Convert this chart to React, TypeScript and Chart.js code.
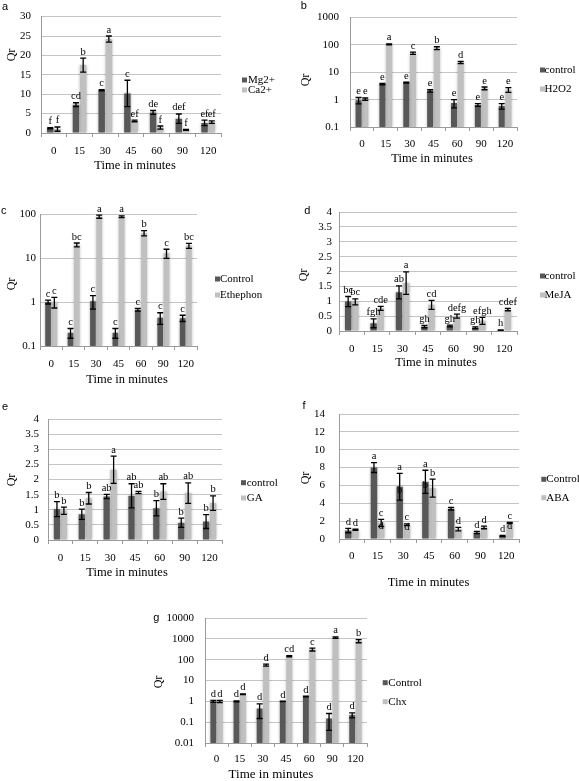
import React, { useEffect, useRef } from 'react';
import { Chart, registerables } from 'chart.js';
Chart.register(...registerables);

// ---------- data ----------
const minutes = ['0', '15', '30', '45', '60', '90', '120'];

// a
const mgValues = [1.2, 7.3, 11.0, 10.2, 5.3, 3.7, 2.6];
const mgErrors = [0.15, 0.5, 0.15, 3.4, 0.5, 1.2, 0.7];
const caValues = [1.0, 17.5, 24.2, 3.1, 1.4, 0.8, 2.8];
const caErrors = [0.55, 1.8, 0.8, 0.2, 0.4, 0.1, 0.3];
const mgLetters = ['f', 'cd', 'c', 'c', 'de', 'def', 'ef'];
const caLetters = ['f', 'b', 'a', 'ef', 'f', 'f', 'ef'];

// b
const bControlValues = [0.95, 3.7, 4.2, 2.1, 0.75, 0.64, 0.58];
const bControlErrors = [0.25, 0.2, 0.2, 0.2, 0.25, 0.07, 0.13];
const h2o2Values = [1.05, 105, 50, 77, 23, 2.6, 2.3];
const h2o2Errors = [0.1, 4, 5, 9, 2, 0.3, 0.45];
const bControlLetters = ['e', 'e', 'e', 'e', 'e', 'e', 'e'];
const h2o2Letters = ['e', 'a', 'c', 'b', 'd', 'e', 'e'];

// c
const cControlValues = [1.0, 0.2, 1.04, 0.2, 0.67, 0.44, 0.43];
const cControlErrors = [0.1, 0.05, 0.35, 0.05, 0.05, 0.13, 0.07];
const ethephonValues = [1.0, 19.9, 87, 87, 36.7, 12.8, 19];
const ethephonErrors = [0.27, 2, 7, 4, 5, 3, 2.5];
const cControlLetters = ['c', 'c', 'c', 'c', 'c', 'c', 'c'];
const ethephonLetters = ['c', 'bc', 'a', 'a', 'b', 'c', 'bc'];

// d
const dControlValues = [0.99, 0.26, 1.3, 0.15, 0.17, 0.11, 0.03];
const dControlErrors = [0.17, 0.15, 0.22, 0.04, 0.03, 0.03, 0.01];
const mejaValues = [0.98, 0.76, 1.61, 0.88, 0.5, 0.34, 0.72];
const mejaErrors = [0.1, 0.07, 0.38, 0.15, 0.07, 0.12, 0.04];
const dControlLetters = ['bc', 'fgh', 'ab', 'gh', 'gh', 'gh', 'h'];
const mejaLetters = ['bc', 'cde', 'a', 'cd', 'defg', 'efgh', 'cdef'];

// e
const eControlValues = [1.02, 0.85, 1.44, 1.46, 1.05, 0.57, 0.61];
const eControlErrors = [0.25, 0.17, 0.07, 0.4, 0.25, 0.15, 0.23];
const gaValues = [0.97, 1.38, 2.32, 1.57, 1.6, 1.55, 1.22];
const gaErrors = [0.12, 0.19, 0.45, 0.04, 0.26, 0.34, 0.24];
const eControlLetters = ['b', 'b', 'ab', 'ab', 'b', 'b', 'b'];
const gaLetters = ['b', 'b', 'a', 'ab', 'ab', 'ab', 'b'];

// f
const fControlValues = [0.95, 8.0, 5.85, 6.4, 3.4, 0.73, 0.35];
const fControlErrors = [0.25, 0.55, 1.5, 1.3, 0.15, 0.12, 0.04];
const abaValues = [1.04, 1.8, 1.6, 5.7, 1.1, 1.3, 1.8];
const abaErrors = [0.06, 0.4, 0.1, 1.0, 0.2, 0.15, 0.06];
const fControlLetters = ['d', 'a', 'a', 'a', 'c', 'd', 'd'];
const fControlInner = ['', '', 'b', 'b', '', '', ''];
const abaLetters = ['d', 'c', 'c', 'b', 'd', 'd', 'c'];
const abaInner = ['', 'd', 'd', '', '', '', 'd'];

// g
const gControlValues = [1.0, 1.0, 0.45, 1.0, 1.7, 0.15, 0.22];
const gControlErrors = [0.1, 0.05, 0.3, 0.03, 0.05, 0.11, 0.06];
const chxValues = [1.0, 2.2, 55, 145, 310, 1150, 780];
const chxErrors = [0.12, 0.1, 6, 10, 50, 100, 130];
const gControlLetters = ['d', 'd', 'd', 'd', 'd', 'd', 'd'];
const chxLetters = ['d', 'd', 'd', 'cd', 'c', 'a', 'b'];

// tick lists
const linTicks30 = [0, 5, 10, 15, 20, 25, 30];
const logTicksB = [0.1, 1, 10, 100, 1000];
const logTicksC = [0.1, 1, 10, 100];
const linTicks4 = [0, 0.5, 1, 1.5, 2, 2.5, 3, 3.5, 4];
const linTicks14 = [0, 2, 4, 6, 8, 10, 12, 14];
const logTicksG = [0.01, 0.1, 1, 10, 100, 1000, 10000];

// ---------- styling / layout ----------
const DARK = '#585858';
const LIGHT = '#c0c0c0';
const SERIF = "'Liberation Serif', 'Times New Roman', serif";
const SANS = "'Liberation Sans', Arial, sans-serif";

type Panel = {
  id: string;
  box: number[]; // x, y, w, h (page)
  area: number[]; // L, T, R, B (page)
  log: boolean;
  ticks: number[];
  names: string[];
  values: number[][];
  errors: number[][];
  letters: string[][];
  inner?: string[][];
  yPad: number;
  xLabelY: number;
  qr: number[];
  title: number[];
  letterPos: number[];
  legend: { mx: number; tx: number; y: number[] };
};

const panels: Panel[] = [
  {
    id: 'a', box: [0, 0, 289, 192], area: [41, 7, 221, 133], log: false, ticks: linTicks30,
    names: ['Mg2+', 'Ca2+'], values: [mgValues, caValues], errors: [mgErrors, caErrors],
    letters: [mgLetters, caLetters], yPad: 10, xLabelY: 151, qr: [12, 55], title: [135, 166, 12.5],
    letterPos: [5, 6.5], legend: { mx: 242, tx: 248, y: [80, 90] },
  },
  {
    id: 'b', box: [289, 0, 290, 192], area: [350, 7, 517, 127], log: true, ticks: logTicksB,
    names: ['control', 'H2O2'], values: [bControlValues, h2o2Values], errors: [bControlErrors, h2o2Errors],
    letters: [bControlLetters, h2o2Letters], yPad: 11, xLabelY: 144, qr: [306, 80], title: [432, 159, 12.5],
    letterPos: [303.7, 5.5], legend: { mx: 540, tx: 544.5, y: [70, 89] },
  },
  {
    id: 'c', box: [0, 192, 289, 198], area: [40, 214, 197, 346], log: true, ticks: logTicksC,
    names: ['Control', 'Ethephon'], values: [cControlValues, ethephonValues], errors: [cControlErrors, ethephonErrors],
    letters: [cControlLetters, ethephonLetters], yPad: 4, xLabelY: 364, qr: [12, 284], title: [127, 380, 12.5],
    letterPos: [3.8, 210.8], legend: { mx: 215, tx: 220, y: [279, 295] },
  },
  {
    id: 'd', box: [289, 192, 290, 198], area: [339, 212, 517, 331], log: false, ticks: linTicks4,
    names: ['control', 'MeJA'], values: [dControlValues, mejaValues], errors: [dControlErrors, mejaErrors],
    letters: [dControlLetters, mejaLetters], yPad: 7, xLabelY: 349, qr: [304, 275], title: [436, 363, 12.5],
    letterPos: [307.3, 210.5], legend: { mx: 540, tx: 544.5, y: [276, 295] },
  },
  {
    id: 'e', box: [0, 390, 289, 198], area: [48, 419, 222, 540], log: false, ticks: linTicks4,
    names: ['control', 'GA'], values: [eControlValues, gaValues], errors: [eControlErrors, gaErrors],
    letters: [eControlLetters, gaLetters], yPad: 9, xLabelY: 558, qr: [12, 480], title: [127, 573, 12.5],
    letterPos: [5, 406.7], legend: { mx: 241, tx: 246.7, y: [482.7, 498] },
  },
  {
    id: 'f', box: [289, 390, 290, 198], area: [339, 414, 519, 539], log: false, ticks: linTicks14,
    names: ['Control', 'ABA'], values: [fControlValues, abaValues], errors: [fControlErrors, abaErrors],
    letters: [fControlLetters, abaLetters], inner: [fControlInner, abaInner], yPad: 14, xLabelY: 556,
    qr: [306, 478], title: [428.5, 583, 12.5], letterPos: [304, 405.5], legend: { mx: 541.3, tx: 546.3, y: [479.3, 497.7] },
  },
  {
    id: 'g', box: [140, 588, 300, 193], area: [205, 618, 367, 743], log: true, ticks: logTicksG,
    names: ['Control', 'Chx'], values: [gControlValues, chxValues], errors: [gControlErrors, chxErrors],
    letters: [gControlLetters, chxLetters], yPad: 11, xLabelY: 759, qr: [159, 682], title: [271, 775, 13],
    letterPos: [156.3, 617.7], legend: { mx: 382.7, tx: 388.3, y: [682.7, 701.7] },
  },
];

function fmt(v: number) {
  return String(Number(v.toFixed(4)));
}

function makePlugin(p: Panel) {
  const [bx, by] = p.box;
  return {
    id: 'panelDecor' + p.id,
    beforeDatasetsDraw(chart: any) {
      const ctx = chart.ctx;
      ctx.save();
      ctx.shadowColor = 'rgba(0,0,0,0.3)';
      ctx.shadowBlur = 3;
    },
    afterDatasetsDraw(chart: any) {
      const ctx = chart.ctx;
      ctx.restore();
      const ys = chart.scales.y;
      ctx.save();
      for (let di = 0; di < 2; di++) {
        const meta = chart.getDatasetMeta(di);
        meta.data.forEach((bar: any, i: number) => {
          const v = p.values[di][i];
          const e = p.errors[di][i];
          const x = bar.x;
          const top = ys.getPixelForValue(v + e);
          const lo = v - e;
          const bot = lo > ys.min ? ys.getPixelForValue(lo) : ys.bottom;
          ctx.strokeStyle = '#000';
          ctx.lineWidth = 1.3;
          ctx.beginPath();
          ctx.moveTo(x, top);
          ctx.lineTo(x, bot);
          ctx.moveTo(x - 3, top);
          ctx.lineTo(x + 3, top);
          ctx.moveTo(x - 3, bot);
          ctx.lineTo(x + 3, bot);
          ctx.stroke();
          ctx.fillStyle = '#000';
          ctx.font = `10.5px ${SERIF}`;
          ctx.textAlign = 'center';
          ctx.textBaseline = 'bottom';
          ctx.fillText(p.letters[di][i], x, top - 1);
        });
      }
      ctx.restore();
    },
    afterDraw(chart: any) {
      const ctx = chart.ctx;
      const ys = chart.scales.y;
      ctx.save();
      ctx.fillStyle = '#000';
      ctx.textAlign = 'center';
      // second letters placed at the bar top
      const inner = p.inner;
      if (inner) {
        ctx.font = `10.5px ${SERIF}`;
        ctx.textBaseline = 'middle';
        for (let di = 0; di < 2; di++) {
          for (let i = 0; i < minutes.length; i++) {
            const t = inner[di][i];
            if (!t) continue;
            const x = chart.getDatasetMeta(di).data[i].x;
            const yTop = ys.getPixelForValue(p.values[di][i]);
            ctx.fillText(t, x, yTop + 3);
          }
        }
      }
      // panel letter
      ctx.font = `11px ${SANS}`;
      ctx.textBaseline = 'middle';
      ctx.fillText(p.id, p.letterPos[0] - bx, p.letterPos[1] - by);
      // x title
      ctx.font = `${p.title[2]}px ${SERIF}`;
      ctx.fillText('Time in minutes', p.title[0] - bx, p.title[1] - by);
      // y title
      ctx.save();
      ctx.translate(p.qr[0] - bx, p.qr[1] - by);
      ctx.rotate(-Math.PI / 2);
      ctx.font = `12px ${SERIF}`;
      ctx.fillText('Qr', 0, 0);
      ctx.restore();
      // legend
      ctx.font = `11px ${SERIF}`;
      ctx.textAlign = 'left';
      [DARK, LIGHT].forEach((c, k) => {
        const y = p.legend.y[k] - by;
        ctx.fillStyle = c;
        ctx.fillRect(p.legend.mx - bx, y - 2.5, 5, 5);
        ctx.fillStyle = '#000';
        ctx.fillText(p.names[k], p.legend.tx - bx, y);
      });
      ctx.restore();
    },
  };
}

function buildConfig(p: Panel): any {
  const [bx, by, bw, bh] = p.box;
  const [L, T, R, B] = p.area;
  const tickFont = { family: SERIF, size: 11 };
  return {
    type: 'bar',
    data: {
      labels: minutes,
      datasets: [
        { label: p.names[0], data: p.values[0], backgroundColor: DARK, borderWidth: 0 },
        { label: p.names[1], data: p.values[1], backgroundColor: LIGHT, borderWidth: 0 },
      ],
    },
    options: {
      responsive: false,
      maintainAspectRatio: false,
      animation: false,
      devicePixelRatio: 1,
      datasets: { bar: { categoryPercentage: 0.56, barPercentage: 0.9 } },
      layout: { padding: { left: 0, top: T - by, right: bx + bw - R, bottom: 0 } },
      plugins: { legend: { display: false }, tooltip: { enabled: false } },
      scales: {
        x: {
          type: 'category',
          offset: true,
          grid: { offset: true, drawOnChartArea: false, drawTicks: true, tickLength: 4, color: '#9a9a9a' },
          border: { color: '#9a9a9a' },
          ticks: {
            font: tickFont, color: '#000', maxRotation: 0, autoSkip: false,
            padding: p.xLabelY - B - 4 - 6.6,
          },
          afterFit: (s: any) => { s.height = by + bh - B; },
        },
        y: {
          type: p.log ? 'logarithmic' : 'linear',
          min: p.ticks[0],
          max: p.ticks[p.ticks.length - 1],
          grid: { color: '#c4c4c4', drawTicks: false },
          border: { color: '#9a9a9a' },
          ticks: {
            font: tickFont, color: '#000', padding: p.yPad, autoSkip: false,
            callback: (v: any) => fmt(Number(v)),
          },
          afterBuildTicks: (s: any) => { s.ticks = p.ticks.map((v) => ({ value: v })); },
          afterFit: (s: any) => { s.width = L - bx; },
        },
      },
    },
    plugins: [makePlugin(p)],
  };
}

function PanelChart({ p }: { p: Panel }) {
  const ref = useRef<HTMLCanvasElement>(null);
  useEffect(() => {
    const chart = new Chart(ref.current as HTMLCanvasElement, buildConfig(p));
    return () => chart.destroy();
  }, [p]);
  const [bx, by, bw, bh] = p.box;
  return (
    <canvas
      ref={ref}
      width={bw}
      height={bh}
      style={{ position: 'absolute', left: bx, top: by, width: bw, height: bh }}
    />
  );
}

export default function App() {
  return (
    <div style={{ position: 'absolute', left: 0, top: 0, width: 579, height: 781, background: '#fff', overflow: 'hidden' }}>
      {panels.map((p) => (
        <PanelChart key={p.id} p={p} />
      ))}
    </div>
  );
}
